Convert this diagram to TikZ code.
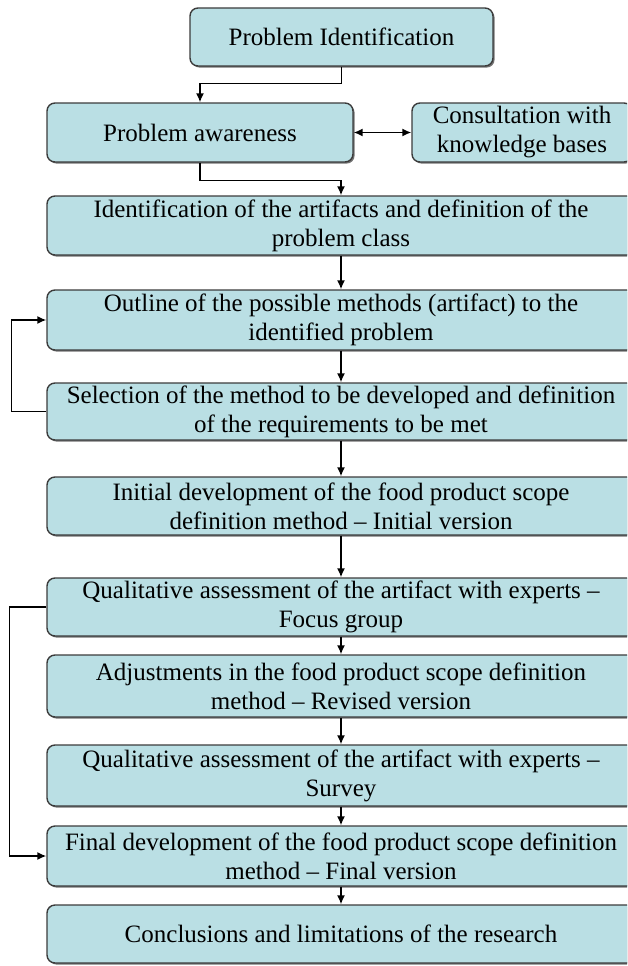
\documentclass[tikz,border=0pt]{standalone}
\usepackage{fontspec}
\setmainfont{Liberation Serif}
\usetikzlibrary{arrows.meta,shadows}
\definecolor{boxfill}{RGB}{186,223,228}
\definecolor{boxline}{RGB}{60,60,60}
\begin{document}
\begin{tikzpicture}[x=1pt,y=-1pt,
  stepbox/.style={draw=boxline, line width=1.4pt, fill=boxfill, rounded corners=8pt,
    align=center, inner sep=0pt, minimum height=58pt,
    font=\fontsize{25}{29}\selectfont,
    drop shadow={shadow xshift=1.6pt, shadow yshift=-1.6pt, fill=black!55, opacity=1}},
  widebox/.style={stepbox, minimum width=588pt},
  link/.style={draw=black, line width=1.5pt, -{Latex[length=9pt,width=8pt]}},
  duallink/.style={draw=black, line width=1.5pt, {Latex[length=9pt,width=8pt]}-{Latex[length=9pt,width=8pt]}}]
\useasboundingbox (0,0) rectangle (627,966);
\clip (0,0) rectangle (627,966);

% process steps
\node[stepbox, minimum width=303pt] (b1) at (341.5,37) {Problem Identification};
\node[stepbox, minimum width=306pt, minimum height=59pt] (b2) at (200,132.5) {Problem awareness};
\node[stepbox, minimum width=220pt, minimum height=59pt] (cons) at (522,132.5) {Consultation with\\knowledge bases};
\node[widebox, minimum height=59pt] (b3) at (341,225.5) {Identification of the artifacts and definition of the\\problem class};
\node[widebox, minimum height=60pt] (b4) at (341,320) {Outline of the possible methods (artifact) to the\\identified problem};
\node[widebox, minimum height=57pt] (b5) at (341,411.5) {Selection of the method to be developed and definition\\of the requirements to be met};
\node[widebox] (b6) at (341,506) {Initial development of the food product scope\\definition method – Initial version};
\node[widebox] (b7) at (341,607) {Qualitative assessment of the artifact with experts –\\Focus group};
\node[widebox, minimum height=62pt] (b8) at (341,686) {Adjustments in the food product scope definition\\method – Revised version};
\node[widebox, minimum height=61pt] (b9) at (341,775.5) {Qualitative assessment of the artifact with experts –\\Survey};
\node[widebox, minimum height=60pt] (b10) at (341,856) {Final development of the food product scope definition\\method – Final version};
\node[widebox, minimum height=58pt] (b11) at (341,934) {Conclusions and limitations of the research};

% main flow
\draw[link] (b1.south) -- ++(0,17) -| (b2.north);
\draw[duallink] (b2.east) -- (cons.west);
\draw[link] (b2.south) -- ++(0,18) -| (b3.north);
\draw[link] (b3) -- (b4);
\draw[link] (b4) -- (b5);
\draw[link] (b5) -- (b6);
\draw[link] (b6) -- (b7);
\draw[link] (b7) -- (b8);
\draw[link] (b8) -- (b9);
\draw[link] (b9) -- (b10);
\draw[link] (b10) -- (b11);

% feedback loops
\draw[link] (b5.west) -- ++(-35,0) |- (b4.west);
\draw[link] (b7.west) -- ++(-37,0) |- (b10.west);
\end{tikzpicture}
\end{document}
